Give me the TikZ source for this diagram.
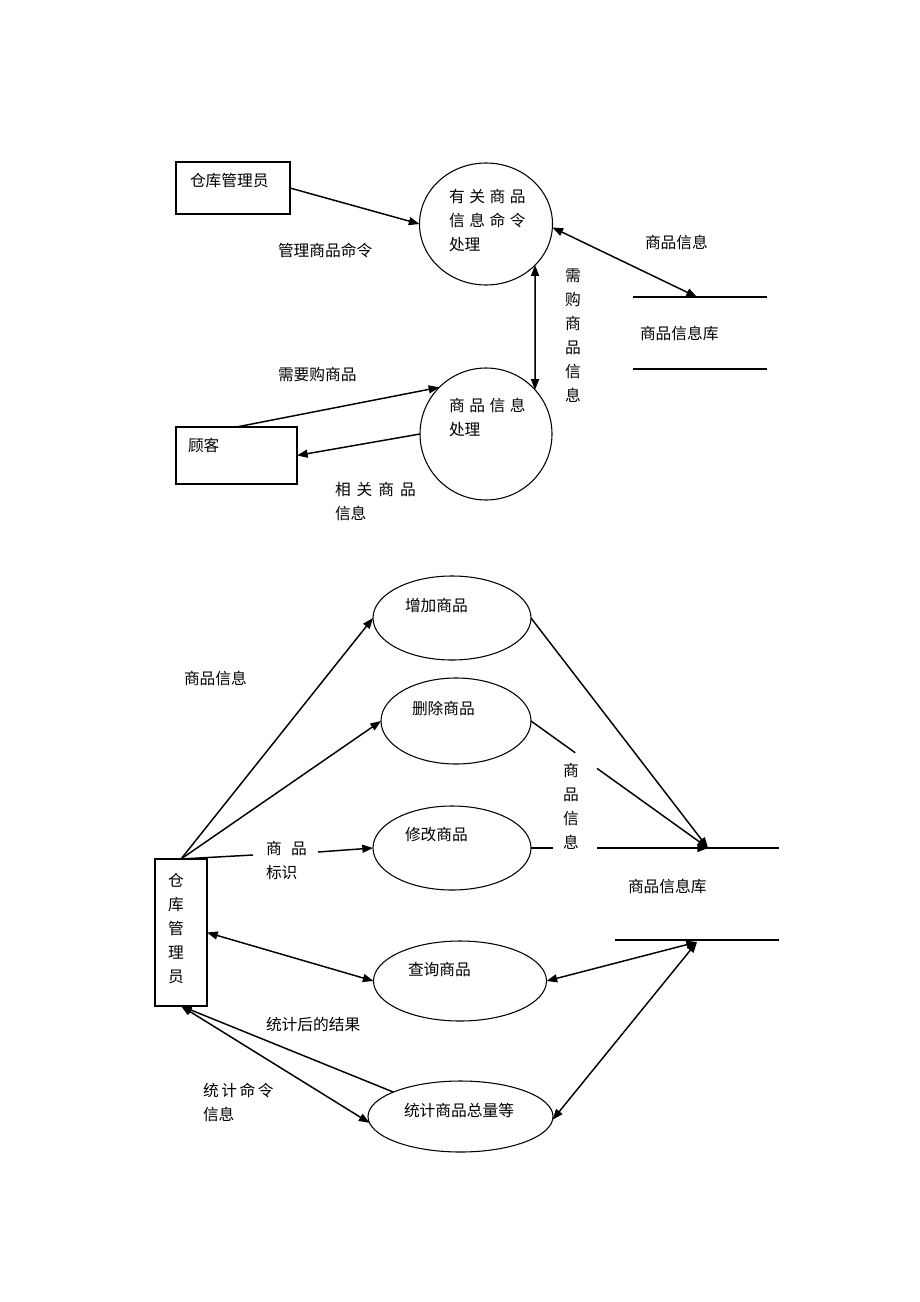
\documentclass[tikz,border=0pt]{standalone}
\usepackage{fontspec}
\newfontfamily\cjk{Noto Sans CJK SC}
\usetikzlibrary{shapes.geometric,arrows.meta,calc}
\begin{document}
\begin{tikzpicture}[x=0.75pt,y=-0.75pt,
  every node/.style={font=\cjk\fontsize{11.8pt}{18pt}\selectfont, inner sep=0pt, outer sep=0pt},
  lbl/.style={anchor=west},
  mlbl/.style={anchor=north west, align=left},
  vlbl/.style={anchor=north, align=center},
  ent/.style={draw, line width=0.8pt, rectangle},
  proc/.style={draw, line width=0.8pt, ellipse},
  flow/.style={line width=1.1pt, -{Triangle[length=8pt,width=6pt]}},
  flow2/.style={line width=1.1pt, {Triangle[length=8pt,width=6pt]}-{Triangle[length=8pt,width=6pt]}},
  plain/.style={line width=1.1pt},
  store/.style={line width=0.8pt}]
\useasboundingbox (0,0) rectangle (920,1302);

% ---------- top diagram ----------
\node[ent, minimum width=85.5pt, minimum height=39pt] (b1) at (233,188) {};
\node[ent, minimum width=90.75pt, minimum height=42.75pt] (b2) at (236.5,455.5) {};
\node[proc, minimum width=99.75pt, minimum height=91.5pt] (c1) at (486,224) {};
\node[proc, minimum width=99pt, minimum height=99pt] (c2) at (486,434) {};

\coordinate (s1) at (697,297);
\coordinate (t1a) at (633,297); \coordinate (t1b) at (767,297);
\coordinate (t2a) at (633,369); \coordinate (t2b) at (767,369);
\draw[store] (t1a) -- (t1b);
\draw[store] (t2a) -- (t2b);

\draw[flow] (b1.east) -- (c1.west);
\draw[flow2] (c1.-3) -- (s1);
\draw[flow2] (c1.-40) -- (c2.42);
\draw[flow] (b2.north) -- (c2.135);
\draw[flow] (c2.west) -- (b2.east);

\node[lbl] at (190,181) {仓库管理员};
\node[lbl] at (278,250) {管理商品命令};
\node[mlbl] at (449,189.5) {有\hspace{3.4pt}关\hspace{3.4pt}商\hspace{3.4pt}品\\信\hspace{3.4pt}息\hspace{3.4pt}命\hspace{3.4pt}令\\处理};
\node[lbl] at (645,242) {商品信息};
\node[lbl] at (640,333) {商品信息库};
\node[vlbl] at (573,268.5) {需\\购\\商\\品\\信\\息};
\node[lbl] at (278,374) {需要购商品};
\node[mlbl] at (449,398.5) {商\hspace{3.4pt}品\hspace{3.4pt}信\hspace{3.4pt}息\\处理};
\node[lbl] at (188,445) {顾客};
\node[mlbl] at (335,482.5) {相\hspace{4.5pt}关\hspace{4.5pt}商\hspace{4.5pt}品\\信息};

% ---------- bottom diagram ----------
\node[ent, minimum width=39pt, minimum height=110.25pt] (b3) at (181,932.5) {};
\node[proc, minimum width=118.5pt, minimum height=63pt] (e1) at (452,618) {};
\node[proc, minimum width=112.5pt, minimum height=64.5pt] (e2) at (456,721) {};
\node[proc, minimum width=118.5pt, minimum height=63pt] (e3) at (452,848) {};
\node[proc, minimum width=129.75pt, minimum height=60pt] (e4) at (460,981) {};
\node[proc, minimum width=138.75pt, minimum height=53.25pt] (e5) at (460.5,1116.5) {};

\coordinate (s2) at (708,848);
\coordinate (s3) at (697,942);
\coordinate (u1a) at (610,848); \coordinate (u1b) at (779,848);
\coordinate (u2a) at (615,940); \coordinate (u2b) at (779,940);
\draw[store] (u1a) -- (u1b);
\draw[store] (u2a) -- (u2b);

\coordinate (k1) at (253,855);
\coordinate (k2) at (318,852);
\coordinate (m1) at (553,848);
\coordinate (m2) at (597,848);
\coordinate (d1) at ($(e2.east)!0.25!(s2)$);
\coordinate (d2) at ($(e2.east)!0.373!(s2)$);

\draw[flow] (b3.north) -- (e1.west);
\draw[flow] (b3.north) -- (e2.west);
\draw[plain] (b3.north) -- (k1);
\draw[flow] (k2) -- (e3.west);
\draw[flow] (e1.east) -- (s2);
\draw[plain] (e2.east) -- (d1);
\draw[flow] (d2) -- (s2);
\draw[plain] (e3.east) -- (m1);
\draw[flow] (m2) -- (s2);
\draw[flow2] (b3.east) -- (e4.west);
\draw[flow2] (s3) -- (e4.east);
\draw[flow2] (s3) -- (e5.-2);
\draw[flow] (e5.160) -- (b3.south);
\draw[flow2] (b3.south) -- (e5.184);

\node[lbl] at (405,605) {增加商品};
\node[lbl] at (412,708) {删除商品};
\node[lbl] at (405,835) {修改商品};
\node[lbl] at (408,969) {查询商品};
\node[lbl] at (404,1110) {统计商品总量等};
\node[lbl] at (184,678) {商品信息};
\node[mlbl] at (266,841.5) {商\hspace{7pt}品\\标识};
\node[vlbl] at (571,763.5) {商\\品\\信\\息};
\node[lbl] at (628,886) {商品信息库};
\node[vlbl] at (176,873.5) {仓\\库\\管\\理\\员};
\node[lbl] at (266,1024) {统计后的结果};
\node[mlbl] at (203,1083.5) {统\hspace{1.9pt}计\hspace{1.9pt}命\hspace{1.9pt}令\\信息};
\end{tikzpicture}
\end{document}
